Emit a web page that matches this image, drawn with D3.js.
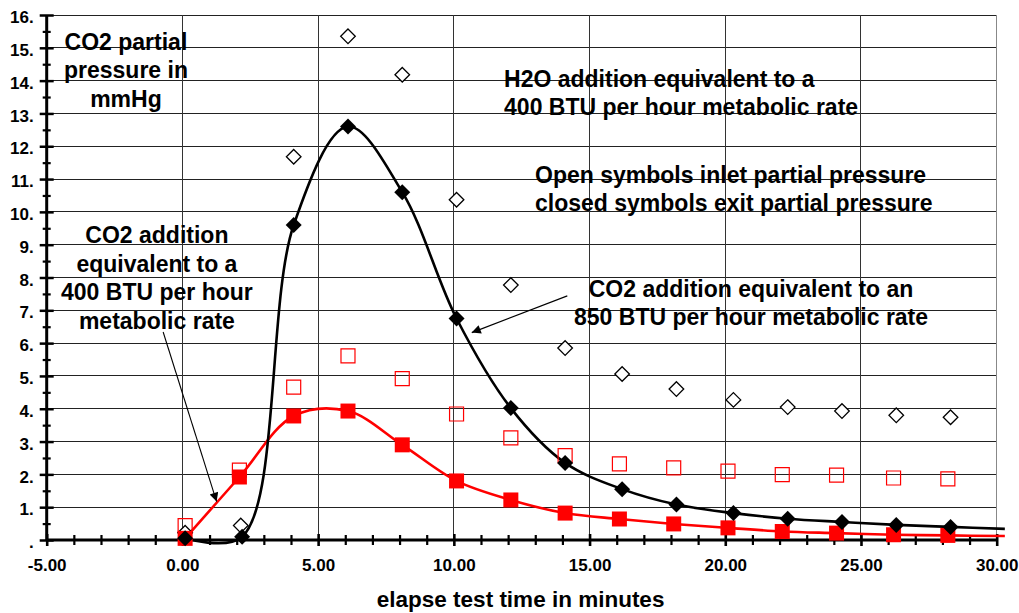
<!DOCTYPE html>
<html><head><meta charset="utf-8">
<script src="https://cdn.jsdelivr.net/npm/d3@7"></script>
<style>
body{margin:0;background:#fff;}
text{font-family:"Liberation Sans",Arial,sans-serif;font-weight:bold;fill:#000;}
</style></head>
<body><svg id="chart" width="1019" height="613"></svg>
<script>
// ---- data ----
const timesExit = [0.1, 2.2, 4.1, 6.1, 8.1, 10.1, 12.1, 14.1, 16.2, 18.2, 20.3, 22.3, 24.3, 26.3, 28.3];
const h2oExit   = [0.05, 0.1, 9.6, 12.6, 10.6, 6.75, 4.02, 2.35, 1.55, 1.08, 0.82, 0.65, 0.55, 0.46, 0.4];
const timesInletH2O = [0.1, 2.15, 4.1, 6.1, 8.1, 10.1, 12.1, 14.1, 16.2, 18.2, 20.3, 22.3, 24.3, 26.3, 28.3];
const h2oInlet  = [0.22, 0.44, 11.68, 15.35, 14.18, 10.37, 7.77, 5.85, 5.06, 4.6, 4.27, 4.05, 3.93, 3.8, 3.74];
const timesCO2 = [0.1, 2.1, 4.1, 6.1, 8.1, 10.1, 12.1, 14.1, 16.1, 18.1, 20.1, 22.1, 24.1, 26.2, 28.2];
const co2Exit  = [0.05, 1.92, 3.78, 3.93, 2.9, 1.8, 1.22, 0.82, 0.64, 0.49, 0.37, 0.26, 0.21, 0.16, 0.14];
const co2Inlet = [0.44, 2.13, 4.66, 5.61, 4.92, 3.84, 3.11, 2.57, 2.32, 2.2, 2.1, 1.99, 1.98, 1.89, 1.86];
const curveEndTime = 30.3;
const h2oCurveEnd = 0.34;
const co2CurveEnd = 0.12;

const xTickValues = [-5, 0, 5, 10, 15, 20, 25, 30];
const xTickLabels = ["-5.00", "0.00", "5.00", "10.00", "15.00", "20.00", "25.00", "30.00"];
const yTickValues = [0,1,2,3,4,5,6,7,8,9,10,11,12,13,14,15,16];
const yTickLabels = [".", "1.", "2.", "3.", "4.", "5.", "6.", "7.", "8.", "9.", "10.", "11.", "12.", "13.", "14.", "15.", "16."];

const annotations = [
  {x: -2.08, y: 14.94, anchor: "middle", dy: 28.5, lines: ["CO2 partial", "pressure in", "mmHg"]},
  {x: 11.85, y: 13.81, anchor: "start", dy: 28, lines: ["H2O addition equivalent to a", "400 BTU per hour metabolic rate"]},
  {x: 12.99, y: 10.88, anchor: "start", dy: 27.8, lines: ["Open symbols inlet partial pressure", "closed symbols exit partial pressure"]},
  {x: -0.94, y: 9.05, anchor: "middle", dy: 28.5, lines: ["CO2 addition", "equivalent to a", "400 BTU per hour", "metabolic rate"]},
  {x: 20.95, y: 7.42, anchor: "middle", dy: 28.3, lines: ["CO2 addition equivalent to an", "850 BTU per hour metabolic rate"]}
];
const arrows = [
  {x1: -0.71, y1: 6.34, x2: 1.26, y2: 1.17},
  {x1: 14.18, y1: 7.44, x2: 10.66, y2: 6.32}
];
const xTitle = "elapse test time in minutes";

// ---- chart ----
const svg = d3.select("#chart");
const x = d3.scaleLinear().domain([-5, 30]).range([46.7, 996.7]);
const y = d3.scaleLinear().domain([0, 16]).range([540, 15]);

const defs = svg.append("defs");
defs.append("marker").attr("id","arrow").attr("viewBox","0 0 10 10")
  .attr("refX",10).attr("refY",5).attr("markerWidth",12).attr("markerHeight",9)
  .attr("markerUnits","userSpaceOnUse").attr("orient","auto")
  .append("path").attr("d","M0,0 L10,5 L0,10 Z").attr("fill","#000");

// gridlines
const grid = svg.append("g").attr("shape-rendering","crispEdges");
grid.selectAll("line.h").data(yTickValues.filter(v => v > 0)).join("line")
  .attr("x1", x(-5)).attr("x2", x(30)).attr("y1", d => y(d)).attr("y2", d => y(d))
  .attr("stroke", "#222").attr("stroke-width", 1);
grid.selectAll("line.v").data(xTickValues.filter(v => v > -5)).join("line")
  .attr("x1", d => x(d)).attr("x2", d => x(d)).attr("y1", y(16)).attr("y2", y(0))
  .attr("stroke", d => d === 30 ? "#888" : "#333").attr("stroke-width", 1);

// y axis minor ticks
const yMinor = d3.range(0.5, 16, 1);
const yMinorAxis = svg.append("g").attr("transform", `translate(${x(-5)},0)`)
  .call(d3.axisLeft(y).tickValues(yMinor).tickFormat("").tickSizeOuter(0));
yMinorAxis.select(".domain").remove();
yMinorAxis.selectAll(".tick line").attr("x1", -4).attr("x2", 4).attr("stroke-width", 2.2);

// y axis major
const yAxis = svg.append("g").attr("transform", `translate(${x(-5)},0)`)
  .call(d3.axisLeft(y).tickValues(yTickValues).tickFormat((d, i) => yTickLabels[i]).tickSizeOuter(0));
yAxis.select(".domain").attr("stroke-width", 3).attr("d", `M0,${y(16)}V${y(0)}`);
yAxis.selectAll(".tick line").attr("x1", -7).attr("x2", 7).attr("stroke-width", 2.5);
yAxis.selectAll(".tick text").attr("x", -13).attr("dy", "0.45em")
  .style("font-size", "17px").style("font-family", '"Liberation Sans",Arial,sans-serif').style("font-weight", "bold");

// x axis minor ticks
const xMinor = d3.range(-4, 30, 1).filter(v => v % 5 !== 0);
const xMinorAxis = svg.append("g").attr("transform", `translate(0,${y(0)})`)
  .call(d3.axisBottom(x).tickValues(xMinor).tickFormat("").tickSizeOuter(0));
xMinorAxis.select(".domain").remove();
xMinorAxis.selectAll(".tick line").attr("y1", -5).attr("y2", 5).attr("stroke-width", 2.2);

const xAxis = svg.append("g").attr("transform", `translate(0,${y(0)})`)
  .call(d3.axisBottom(x).tickValues(xTickValues).tickFormat((d, i) => xTickLabels[i]).tickSizeOuter(0));
xAxis.select(".domain").attr("stroke-width", 3).attr("d", `M${x(-5)},0H${x(30)}`);
xAxis.selectAll(".tick line").attr("y1", -6).attr("y2", 6).attr("stroke-width", 2.6);
xAxis.selectAll(".tick text").attr("y", 19).attr("dy", "0.71em")
  .style("font-size", "17px").style("font-family", '"Liberation Sans",Arial,sans-serif').style("font-weight", "bold");

// curves
const lineGen = d3.line().x(d => x(d[0])).y(d => y(d[1])).curve(d3.curveCatmullRom.alpha(0.5));
const h2oCurve = timesExit.map((t, i) => [t, h2oExit[i]]).concat([[curveEndTime, h2oCurveEnd]]);
const co2Curve = timesCO2.map((t, i) => [t, co2Exit[i]]).concat([[curveEndTime, co2CurveEnd]]);
svg.append("path").datum(co2Curve).attr("d", lineGen).attr("fill","none").attr("stroke","#ff0000").attr("stroke-width",2.6);
svg.append("path").datum(h2oCurve).attr("d", lineGen).attr("fill","none").attr("stroke","#000").attr("stroke-width",2.6);

// markers
const diamond = r => `M0,${-r}L${r},0L0,${r}L${-r},0Z`;
const square = s => `M${-s/2},${-s/2}h${s}v${s}h${-s}Z`;

svg.append("g").selectAll("path").data(co2Inlet).join("path")
  .attr("transform", (d, i) => `translate(${x(timesCO2[i])},${y(d)})`)
  .attr("d", square(14)).attr("fill", "none").attr("stroke", "#ff0000").attr("stroke-width", 1.2);
svg.append("g").selectAll("path").data(h2oInlet).join("path")
  .attr("transform", (d, i) => `translate(${x(timesInletH2O[i])},${y(d)})`)
  .attr("d", diamond(7.3)).attr("fill", "#fff").attr("stroke", "#000").attr("stroke-width", 1.3);
svg.append("g").selectAll("path").data(co2Exit).join("path")
  .attr("transform", (d, i) => `translate(${x(timesCO2[i])},${y(d)})`)
  .attr("d", square(15)).attr("fill", "#ff0000");
svg.append("g").selectAll("path").data(h2oExit).join("path")
  .attr("transform", (d, i) => `translate(${x(timesExit[i])},${y(d)})`)
  .attr("d", diamond(8)).attr("fill", "#000");

// arrows
svg.append("g").selectAll("line").data(arrows).join("line")
  .attr("x1", d => x(d.x1)).attr("y1", d => y(d.y1)).attr("x2", d => x(d.x2)).attr("y2", d => y(d.y2))
  .attr("stroke", "#000").attr("stroke-width", 1.1).attr("marker-end", "url(#arrow)");

// annotations
annotations.forEach(a => {
  const t = svg.append("text").attr("x", x(a.x)).attr("y", y(a.y))
    .attr("text-anchor", a.anchor).style("font-size", "23px");
  a.lines.forEach((ln, i) => {
    t.append("tspan").attr("x", x(a.x)).attr("dy", i === 0 ? 0 : a.dy).text(ln);
  });
});

svg.append("text").attr("x", x(12.46)).attr("y", 607).attr("text-anchor", "middle")
  .style("font-size", "22.5px").text(xTitle);
</script></body></html>
